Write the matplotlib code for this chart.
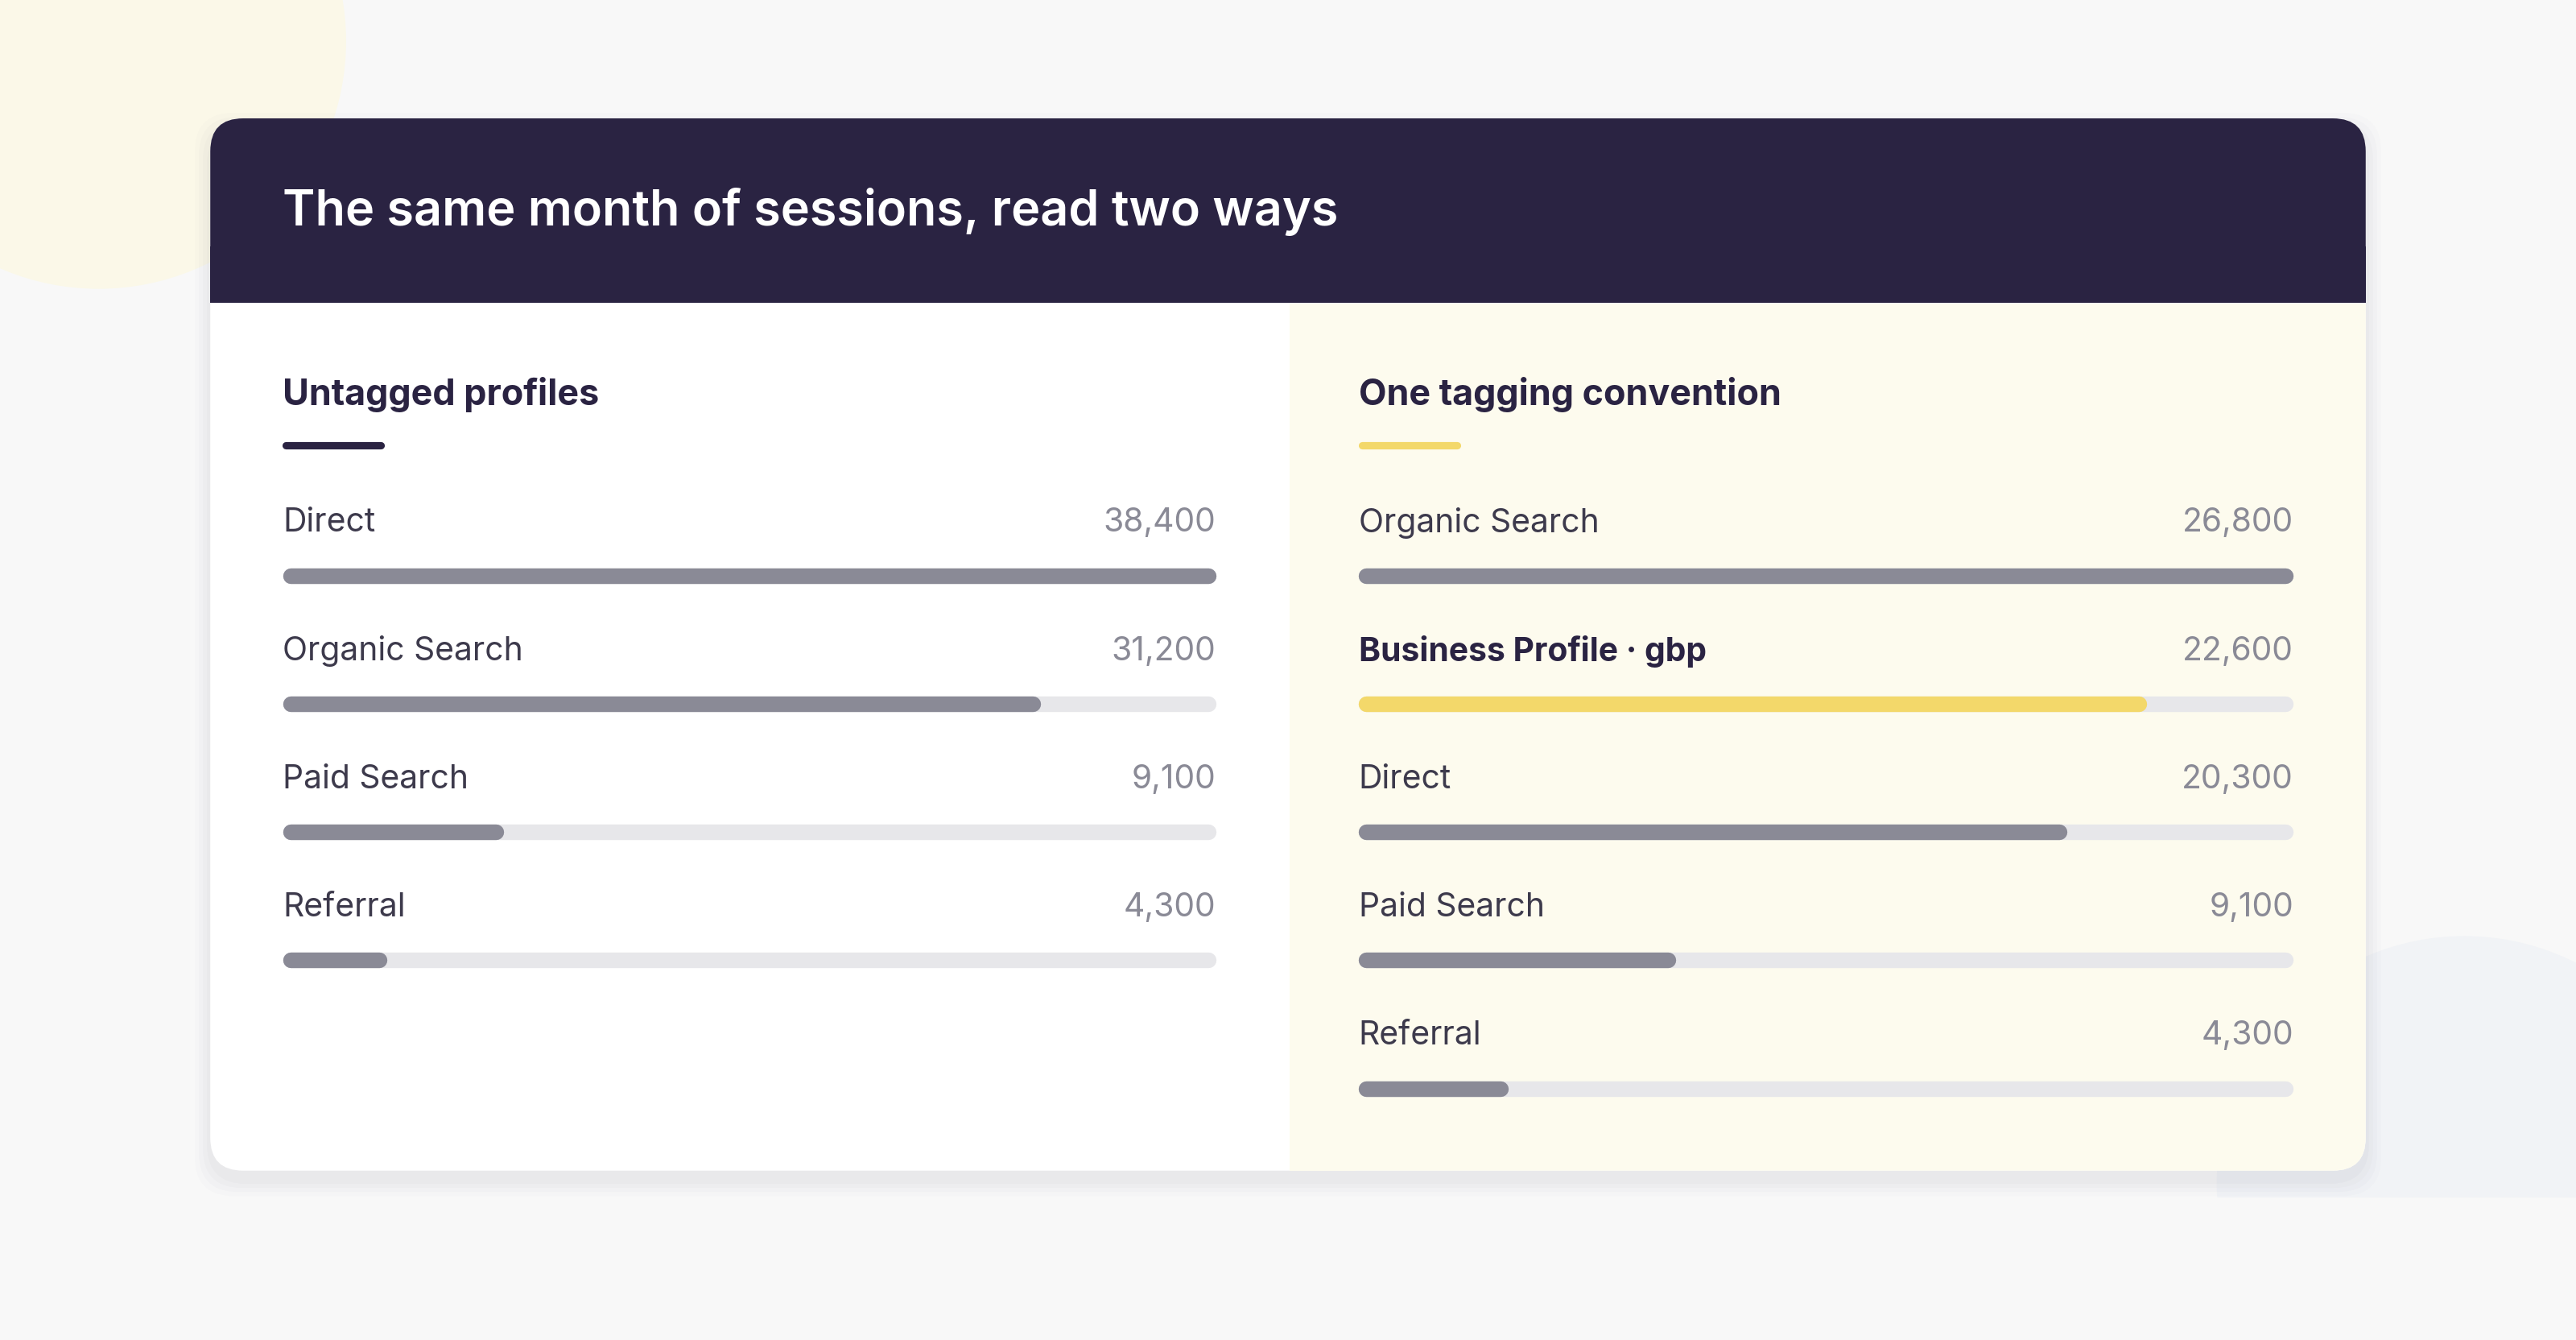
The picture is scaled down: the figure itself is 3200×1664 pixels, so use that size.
import matplotlib.pyplot as plt
from matplotlib.patches import FancyBboxPatch, Rectangle, Circle

# === DATA ===
title = "The same month of sessions, read two ways"
left_heading = "Untagged profiles"
left_labels = ["Direct", "Organic Search", "Paid Search", "Referral"]
left_values = [38400, 31200, 9100, 4300]
right_heading = "One tagging convention"
right_labels = ["Organic Search", "Business Profile · gbp", "Direct", "Paid Search", "Referral"]
right_values = [26800, 22600, 20300, 9100, 4300]
right_highlight = "Business Profile · gbp"

# === STYLE ===
W, H = 1568, 815          # layout units (y grows downward)
NAVY = "#2a2342"
YELLOW = "#f3d86a"
GREY_BAR = "#8a8a96"
TRACK = "#e7e7ea"
FONT = ["Inter", "DejaVu Sans"]
PX = 2.04 / 200 * 72      # layout px -> points

fig = plt.figure(figsize=(16, 8.32), dpi=200)
ax = fig.add_axes([0, 0, 1, 1])
ax.set_xlim(0, W)
ax.set_ylim(H, 0)
ax.axis("off")
fig.patch.set_facecolor("#f8f8f8")

# decorative blobs
ax.add_patch(Circle((60, 25), 150, color="#fbf8e8", zorder=0))
ax.add_patch(Circle((1500, 720), 150, color="#f1f3f6", zorder=0))
ax.add_patch(Rectangle((0, 729), W, 90, color="#f8f8f8", zorder=0.5))

# card with soft shadow
x0, x1, y0, y1 = 128, 1440, 72, 712
for i, a in enumerate([0.025, 0.02, 0.015, 0.01]):
    g = 4 + i * 5
    ax.add_patch(FancyBboxPatch((x0 - g / 2, y0 + 6 - g / 2), x1 - x0 + g, y1 - y0 + g,
                                boxstyle="round,pad=0,rounding_size=24",
                                fc="#303050", ec="none", alpha=a, zorder=1))
ax.add_patch(FancyBboxPatch((x0, y0), x1 - x0, y1 - y0, boxstyle="round,pad=0,rounding_size=20",
                            fc="white", ec="none", zorder=2))
# right panel tint
ax.add_patch(FancyBboxPatch((785, 150), x1 - 785, y1 - 150, boxstyle="round,pad=0,rounding_size=20",
                            fc="#fdfbee", ec="none", zorder=2.1))
ax.add_patch(Rectangle((785, 150), 40, y1 - 150, fc="#fdfbee", ec="none", zorder=2.1))
# header
ax.add_patch(FancyBboxPatch((x0, y0), x1 - x0, 112, boxstyle="round,pad=0,rounding_size=20",
                            fc=NAVY, ec="none", zorder=3))
ax.add_patch(Rectangle((x0, 150), x1 - x0, 34, fc=NAVY, ec="none", zorder=3))
ax.text(172, 129, title, color="white", fontsize=30 * PX, fontweight="semibold",
        family=FONT, va="center", ha="left", zorder=4)


def panel(px0, px1, heading, accent, labels, values, highlight=None):
    ax.text(px0, 240, heading, color=NAVY, fontsize=22 * PX, fontweight="bold",
            family=FONT, va="center", ha="left", zorder=4)
    ax.plot([px0 + 2, px0 + 60], [271, 271], color=accent, lw=4.5 * PX * 1.0,
            solid_capstyle="round", zorder=4)
    vmax = max(values)
    lw = 9.5 * PX
    r = 4.75
    for i, (lab, v) in enumerate(zip(labels, values)):
        y = 318 + 78 * i
        hl = lab == highlight
        ax.text(px0, y, lab, color=NAVY if hl else "#3d3a4c", fontsize=20 * PX,
                fontweight="bold" if hl else "normal", family=FONT,
                va="center", ha="left", zorder=4)
        ax.text(px1, y, f"{v:,}", color="#8a8a96", fontsize=20 * PX, family=FONT,
                va="center", ha="right", zorder=4)
        yb = y + 32
        ax.plot([px0 + r, px1 - r], [yb, yb], color=TRACK, lw=lw, solid_capstyle="round", zorder=4)
        end = px0 + (px1 - px0) * v / vmax
        ax.plot([px0 + r, end - r], [yb, yb], color=YELLOW if hl else GREY_BAR, lw=lw,
                solid_capstyle="round", zorder=5)


panel(172, 740, left_heading, NAVY, left_labels, left_values)
panel(827, 1396, right_heading, YELLOW, right_labels, right_values, right_highlight)

fig.savefig("out.png", dpi=200, facecolor=fig.get_facecolor())
